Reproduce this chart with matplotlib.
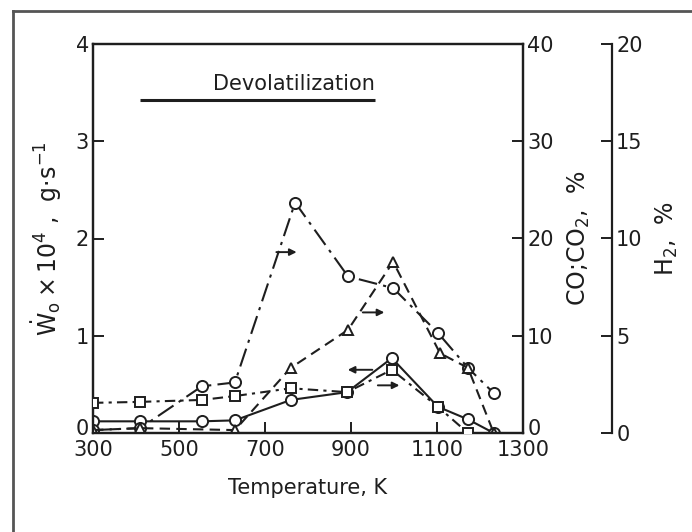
import matplotlib
matplotlib.use("Agg")
import matplotlib.pyplot as plt
import matplotlib.transforms as mtransforms
from matplotlib.lines import Line2D

plt.rcParams['font.family'] = ['DejaVu Sans']
plt.rcParams['mathtext.fontset'] = 'dejavusans'

# ---- data ----
# Curve A: CO (right axis, %), dash-dot, circles
t_co = [300, 410, 553, 630, 770, 893, 998, 1102, 1172, 1232]
co = [0.3, 0.5, 4.8, 5.2, 23.7, 16.1, 14.9, 10.3, 6.7, 4.1]
# Curve B: CO2 (right axis, %), dashed, triangles
t_co2 = [300, 410, 630, 760, 893, 998, 1107, 1172, 1232]
co2 = [0.3, 0.5, 0.3, 6.7, 10.6, 17.6, 8.2, 6.7, 0.0]
# Curve C: W0 x 1e4 (left axis, g/s), solid, circles
t_w = [300, 410, 553, 630, 760, 891, 995, 1102, 1172, 1232]
w0 = [0.12, 0.12, 0.12, 0.13, 0.34, 0.42, 0.77, 0.27, 0.14, 0.0]
# Curve D: H2 (far right axis, %), dash-dot, squares
t_h2 = [300, 410, 553, 630, 760, 891, 995, 1102, 1172]
h2 = [1.55, 1.6, 1.7, 1.9, 2.3, 2.1, 3.25, 1.35, 0.0]

x_ticks = [300, 500, 700, 900, 1100, 1300]
left_ticks = [0, 1, 2, 3, 4]
co_ticks = [0, 10, 20, 30, 40]
h2_ticks = [0, 5, 10, 15, 20]

ink = '#1e1e1e'
fs = 15

fig = plt.figure(figsize=(6.92, 5.32), dpi=100)
ax = fig.add_axes([93/692, 1-433/532, (523-93)/692, (433-44)/532])
ax2 = ax.twinx()
ax3 = ax.twinx()
ax3.spines['right'].set_position(('axes', (612-93)/(523-93)))

for a in (ax, ax2, ax3):
    for s in a.spines.values():
        s.set_linewidth(1.6)
        s.set_color(ink)
ax3.spines['top'].set_visible(False)
ax3.spines['bottom'].set_visible(False)
ax3.spines['left'].set_visible(False)

ax.set_xlim(300, 1300)
ax.set_ylim(0, 4)
ax2.set_ylim(0, 40)
ax3.set_ylim(0, 20)

ax.set_xticks(x_ticks)
ax.set_yticks(left_ticks)
ax2.set_yticks(co_ticks)
ax3.set_yticks(h2_ticks)

ax.tick_params(axis='both', direction='in', length=8, width=1.4, colors=ink,
               labelsize=fs, pad=3)
ax.tick_params(axis='x', pad=5)
ax2.tick_params(axis='y', direction='in', length=8, width=1.4, colors=ink,
                labelsize=fs, pad=3)
ax3.tick_params(axis='y', direction='in', length=8, width=1.4, colors=ink,
                labelsize=fs, pad=3)

# lift the "0" labels of the main box slightly, as in the reference
lift = mtransforms.ScaledTranslation(0, 6/100, fig.dpi_scale_trans)
for lbl in (ax.get_yticklabels()[0], ax2.get_yticklabels()[0]):
    lbl.set_transform(lbl.get_transform() + lift)

mk = dict(markerfacecolor='white', markeredgecolor=ink, markeredgewidth=1.4,
          color=ink, linewidth=1.5)

ax2.plot(t_co, co, linestyle=(0, (9, 3, 1.5, 3)), marker='o', markersize=8, **mk)
ax2.plot(t_co2, co2, linestyle=(0, (5, 3)), marker='^', markersize=7, **mk)
ax.plot(t_w, w0, linestyle='-', marker='o', markersize=8, **mk)
ax3.plot(t_h2, h2, linestyle=(0, (5, 2.5, 1.5, 2.5)), marker='s', markersize=7, **mk)

# direction arrows (positions given in left-axis units, drawn on top axis)
arr = dict(arrowstyle='-|>', color=ink, lw=1.4, mutation_scale=10)
k = 20 / 4
ax3.annotate('', xy=(780, 1.86*k), xytext=(720, 1.86*k), arrowprops=arr)
ax3.annotate('', xy=(984, 1.24*k), xytext=(921, 1.24*k), arrowprops=arr)
ax3.annotate('', xy=(886, 0.65*k), xytext=(956, 0.65*k), arrowprops=arr)
ax3.annotate('', xy=(1019, 0.49*k), xytext=(956, 0.49*k), arrowprops=arr)

# title text with underline
ax.text(956, 3.59, 'Devolatilization', ha='right', va='center', fontsize=fs, color=ink)
ax.plot([409, 956], [3.42, 3.42], color=ink, linewidth=2.2, solid_capstyle='butt')

ax.set_xlabel('Temperature, K', fontsize=fs, color=ink, labelpad=13)
ax.set_ylabel(r'$\dot{\mathrm{W}}_{\mathrm{o}}\times10^{4}$ ,  g$\cdot$s$^{-1}$',
              fontsize=17, color=ink, labelpad=8)
ax2.set_ylabel(r'CO;CO$_2$,  %', fontsize=17, color=ink, labelpad=9, rotation=90)
ax3.set_ylabel(r'H$_2$,  %', fontsize=17, color=ink, labelpad=8, rotation=90)

# scan frame
fig.add_artist(Line2D([13/692, 13/692], [0, 1-11/532], transform=fig.transFigure,
                      color='#555555', linewidth=2))
fig.add_artist(Line2D([13/692, 1], [1-11/532, 1-11/532], transform=fig.transFigure,
                      color='#555555', linewidth=2))

fig.savefig('out.png', dpi=100)
